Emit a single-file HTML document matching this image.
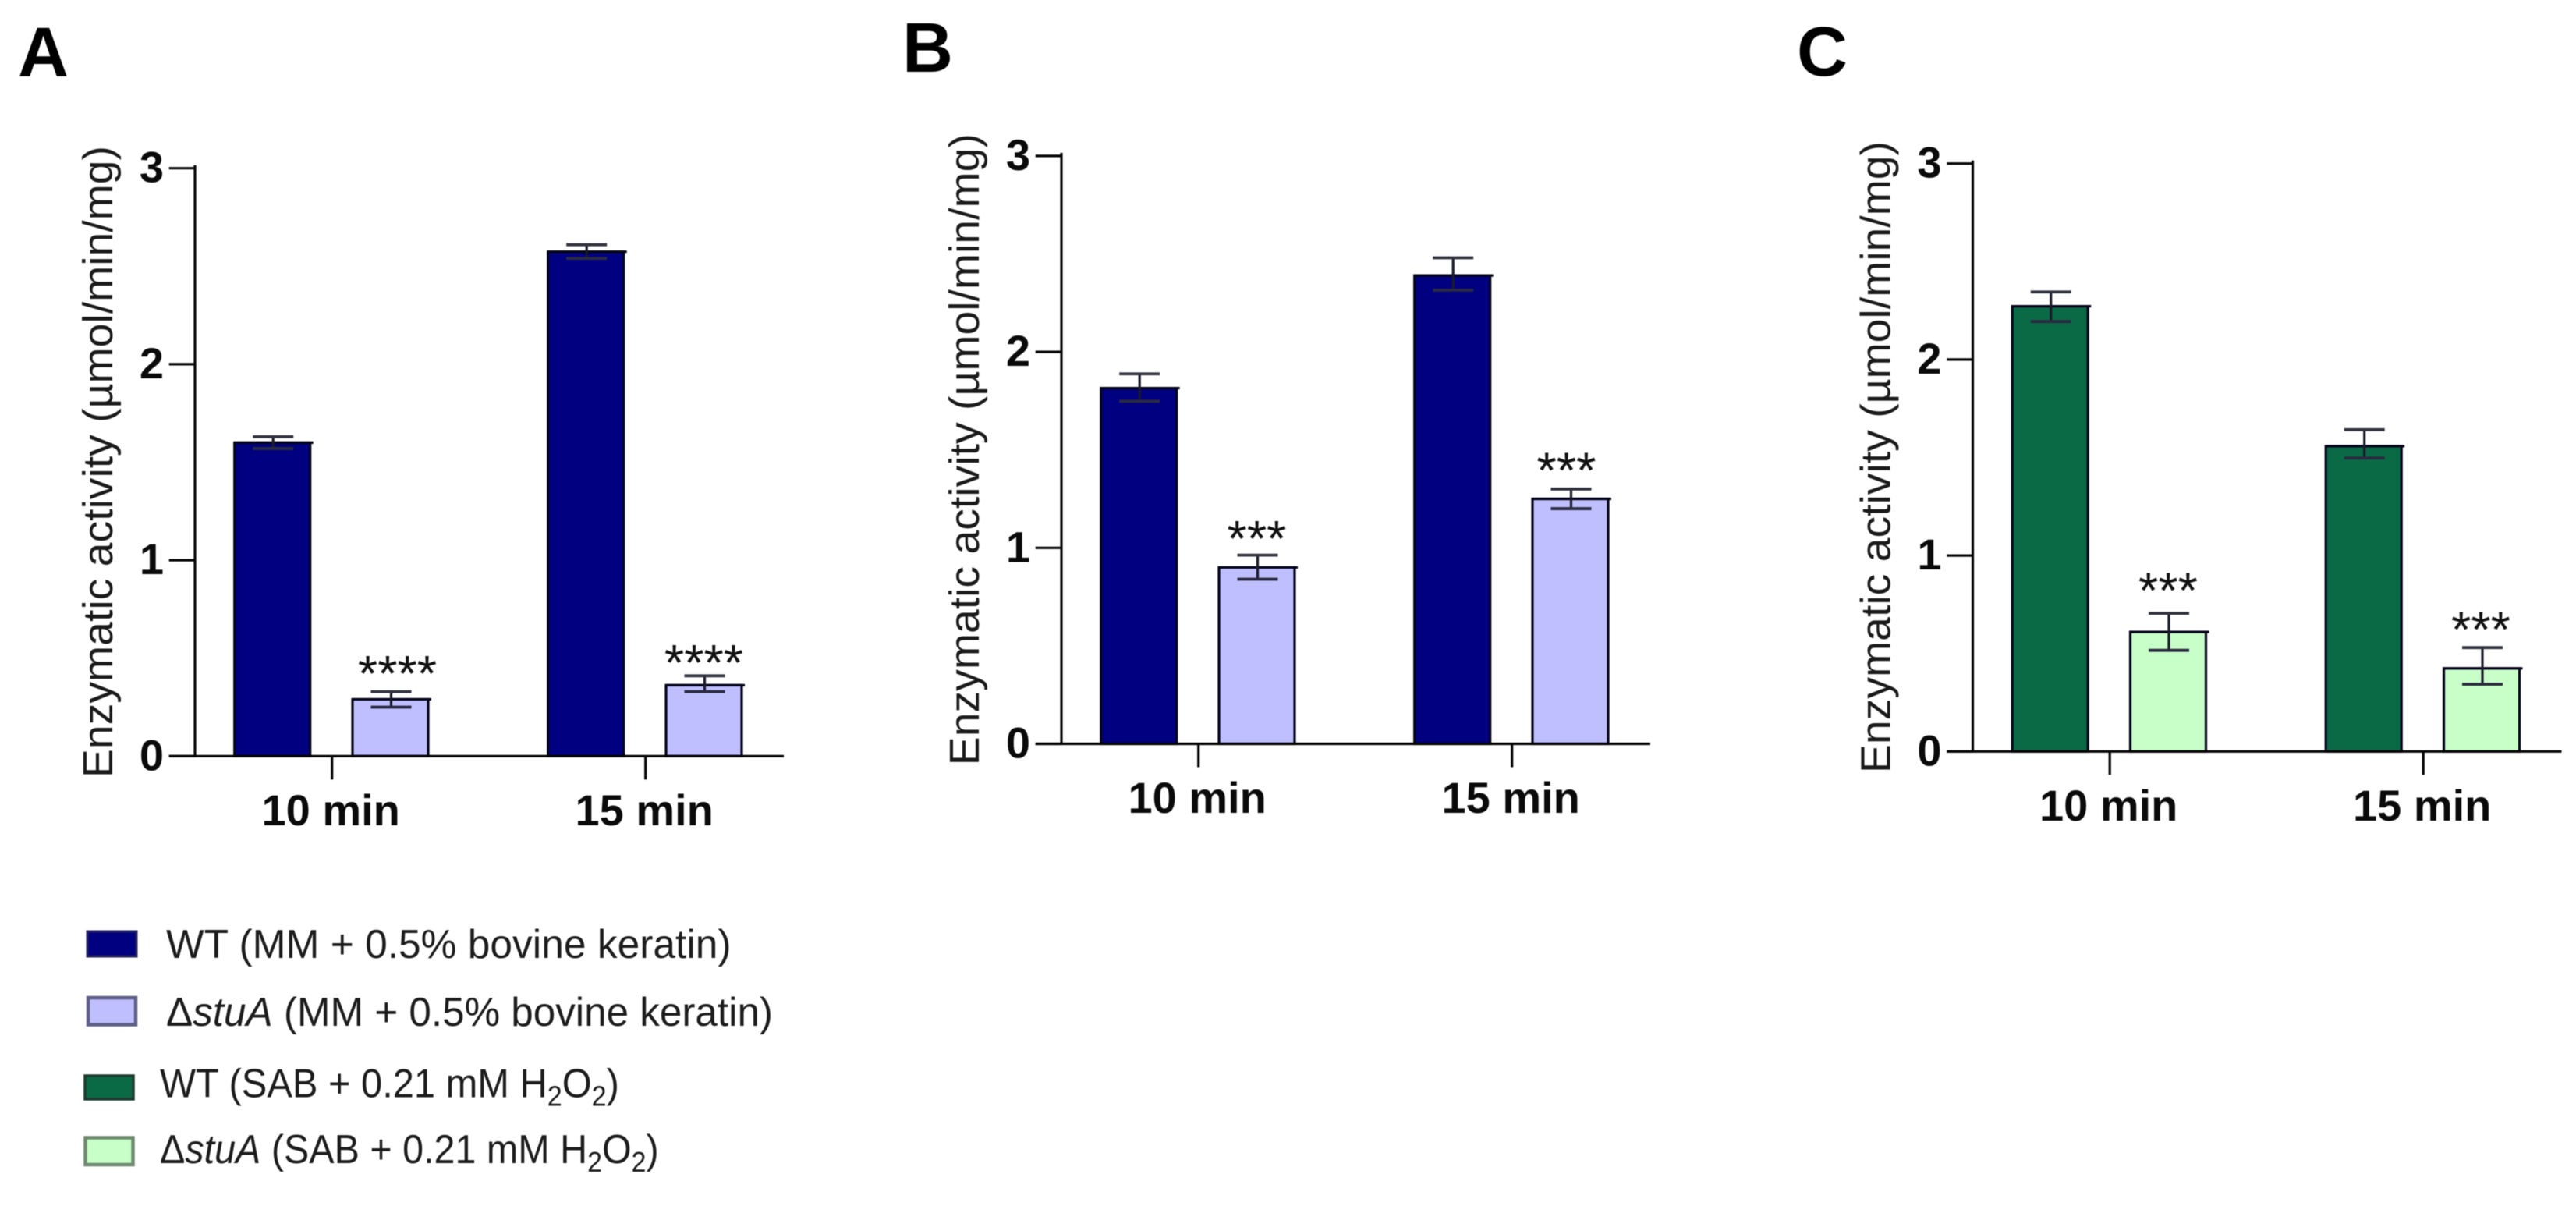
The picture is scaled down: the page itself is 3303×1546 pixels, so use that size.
<!DOCTYPE html>
<html lang="en">
<head>
<meta charset="utf-8">
<title>Enzymatic activity panels</title>
<style>
html,body{margin:0;padding:0;background:#fff;}
svg{display:block;filter:blur(0.6px);}
text{font-family:"Liberation Sans",Arial,sans-serif;fill:#0a0a0a;}
.letter{font-size:90px;font-weight:bold;fill:#000;}
.ytitle{font-size:54px;fill:#1a1a1a;}
.tick-label{font-size:56px;font-weight:bold;fill:#0a0a0a;}
.legend-text{font-size:51.5px;fill:#1c1c1c;}
.star{font-size:65px;fill:#111;}
</style>
</head>
<body>
<svg id="figure" xmlns="http://www.w3.org/2000/svg" width="3303" height="1546" viewBox="0 0 3303 1546">
  <rect x="0" y="0" width="3303" height="1546" fill="#ffffff"/>

  <text class="letter" x="23" y="98">A</text>
  <text class="letter" x="1157" y="92">B</text>
  <text class="letter" x="2304" y="97">C</text>

  <g id="panel-a" transform="translate(0 0)">
    <text class="ytitle" transform="translate(144 997) rotate(-90)" textLength="810" lengthAdjust="spacingAndGlyphs">Enzymatic activity (µmol/min/mg)</text>
  </g>
  <g id="panel-b" transform="translate(1111 -15.8)">
    <text class="ytitle" transform="translate(144 997) rotate(-90)" textLength="810" lengthAdjust="spacingAndGlyphs">Enzymatic activity (µmol/min/mg)</text>
  </g>
  <g id="panel-c" transform="translate(2279.5 -6)">
    <text class="ytitle" transform="translate(144 997) rotate(-90)" textLength="810" lengthAdjust="spacingAndGlyphs">Enzymatic activity (µmol/min/mg)</text>
  </g>

  <g>
    <g>
      <rect x="112" y="1194" width="63" height="32" fill="#000080" stroke="#24245e" stroke-width="3"/>
      <text class="legend-text" x="213" y="1228">WT (MM + 0.5% bovine keratin)</text>
    </g>
    <g>
      <rect x="113" y="1279" width="61" height="34.500" fill="#bfbfff" stroke="#5e5e86" stroke-width="4.500"/>
      <text class="legend-text" transform="translate(213 1315) scale(0.994 1)" x="0" y="0">Δ<tspan font-style="italic">stuA</tspan> (MM + 0.5% bovine keratin)</text>
    </g>
    <g>
      <rect x="109" y="1379" width="62" height="30" fill="#0a6a46" stroke="#1c3c30" stroke-width="3.500"/>
      <text class="legend-text" transform="translate(205 1406.5) scale(0.948 1)" x="0" y="0">WT (SAB + 0.21 mM H<tspan font-size="36" dy="11">2</tspan><tspan dy="-11">O</tspan><tspan font-size="36" dy="11">2</tspan><tspan dy="-11">)</tspan></text>
    </g>
    <g>
      <rect x="109.500" y="1458.500" width="61" height="34.500" fill="#c8ffc8" stroke="#6f8a70" stroke-width="4.500"/>
      <text class="legend-text" transform="translate(205 1491) scale(0.941 1)" x="0" y="0">Δ<tspan font-style="italic">stuA</tspan> (SAB + 0.21 mM H<tspan font-size="36" dy="11">2</tspan><tspan dy="-11">O</tspan><tspan font-size="36" dy="11">2</tspan><tspan dy="-11">)</tspan></text>
    </g>
  </g>
</svg>

<script>
// ---- Data ----
const categories = ['10 min', '15 min'];
const yTickValues = [0, 1, 2, 3];
const yTickLabels = ['0', '1', '2', '3'];

const aWtMean = [1.60, 2.574];
const aWtErrHigh = [1.63, 2.61];
const aWtErrLow = [1.57, 2.54];
const aMutMean = [0.29, 0.362];
const aMutErrHigh = [0.329, 0.41];
const aMutErrLow = [0.25, 0.329];
const aStarText = ['****', '****'];
const aStarLevel = [0.4636, 0.519];

const bWtMean = [1.815, 2.39];
const bWtErrHigh = [1.888, 2.48];
const bWtErrLow = [1.748, 2.315];
const bMutMean = [0.90, 1.25];
const bMutErrHigh = [0.963, 1.30];
const bMutErrLow = [0.84, 1.20];
const bStarText = ['***', '***'];
const bStarLevel = [1.089, 1.438];

const cWtMean = [2.272, 1.558];
const cWtErrHigh = [2.345, 1.642];
const cWtErrLow = [2.194, 1.497];
const cMutMean = [0.61, 0.424];
const cMutErrHigh = [0.705, 0.53];
const cMutErrLow = [0.516, 0.343];
const cStarText = ['***', '***'];
const cStarLevel = [0.864, 0.6635];

// ---- Layout (shared local frame for each panel) ----
const AXIS_X = 250, ZERO_Y = 969.3, UNIT = 251.2, GROUP0 = 425.7, GROUP_STEP = 402;
const BAR_W = 97, CAP_W = 52, LINE = 3.2;
const INK = '#050505';

function yScale(v) { return ZERO_Y - v * UNIT; }
function xGroup(i) { return GROUP0 + GROUP_STEP * i; }
function xBar(i, s) { return xGroup(i) + (s === 0 ? -76.5 : 74.8); }

const SVGNS = 'http://www.w3.org/2000/svg';
function mk(tag, parent) {
  const el = document.createElementNS(SVGNS, tag);
  parent.appendChild(el);
  return el;
}
function line(parent, x1, y1, x2, y2, w, color) {
  const l = mk('line', parent);
  l.setAttribute('x1', x1);
  l.setAttribute('y1', y1);
  l.setAttribute('x2', x2);
  l.setAttribute('y2', y2);
  l.setAttribute('stroke', color || INK);
  l.setAttribute('stroke-width', w || LINE);
  return l;
}

function drawAxes(g, id) {
  const yAxis = line(g, AXIS_X, yScale(3) - 4, AXIS_X, ZERO_Y + 1.4);
  
  
  const xAxis = line(g, 216.7, ZERO_Y, 1005, ZERO_Y);
  
  

  yTickValues.forEach(function (v, i) {
    const t = line(g, 216.7, yScale(v), AXIS_X, yScale(v));
    
    
    const lab = mk('text', g);
    lab.setAttribute('class', 'tick-label');
    lab.setAttribute('x', 210);
    lab.setAttribute('y', yScale(v) + 18);
    lab.setAttribute('text-anchor', 'end');
    lab.textContent = yTickLabels[i];
    
    
  });

  categories.forEach(function (c, i) {
    const t = line(g, xGroup(i), ZERO_Y, xGroup(i), ZERO_Y + 30);
    
    
    const lab = mk('text', g);
    lab.setAttribute('class', 'tick-label');
    lab.setAttribute('x', xGroup(i) - 1.5);
    lab.setAttribute('y', ZERO_Y + 88.7);
    lab.setAttribute('text-anchor', 'middle');
    lab.textContent = c;
    
    
  });
}

function drawSeries(g, id, sIdx, key, fill, mean, hi, lo) {
  mean.forEach(function (v, i) {
    const cx = xBar(i, sIdx);
    const top = yScale(v);
    const r = mk('rect', g);
    r.setAttribute('x', cx - BAR_W / 2);
    r.setAttribute('y', top);
    r.setAttribute('width', BAR_W);
    r.setAttribute('height', ZERO_Y - top);
    r.setAttribute('fill', fill);
    r.setAttribute('stroke', '#05051a');
    r.setAttribute('stroke-width', LINE);
    
    

    const over = line(g, cx - BAR_W / 2, top, cx + BAR_W / 2 + 4, top, LINE, '#05051a');
    
    

    const ex = cx + 1;
    const eg = mk('g', g);
    
    
    line(eg, ex, yScale(hi[i]), ex, yScale(lo[i]), LINE, '#1a1a2a');
    line(eg, ex - CAP_W / 2, yScale(hi[i]), ex + CAP_W / 2, yScale(hi[i]), LINE + 0.6, '#333340');
    line(eg, ex - CAP_W / 2, yScale(lo[i]), ex + CAP_W / 2, yScale(lo[i]), LINE + 0.6, '#2a2a40');
  });
}

function drawStars(g, id, texts, levels, nudge) {
  texts.forEach(function (s, i) {
    const t = mk('text', g);
    t.setAttribute('class', 'star');
    t.setAttribute('x', xBar(i, 1) + nudge[i]);
    t.setAttribute('y', yScale(levels[i]) + 33);
    t.setAttribute('text-anchor', 'middle');
    t.textContent = s;
    
    
  });
}

function drawPanel(id, wtFill, mutFill, wt, wtHi, wtLo, mut, mutHi, mutLo, starText, starLevel, starNudge) {
  const g = document.getElementById('panel-' + id);
  drawSeries(g, id, 0, 'wt', wtFill, wt, wtHi, wtLo);
  drawSeries(g, id, 1, 'stua', mutFill, mut, mutHi, mutLo);
  drawAxes(g, id);
  drawStars(g, id, starText, starLevel, starNudge);
}

drawPanel('a', '#000080', '#bfbfff', aWtMean, aWtErrHigh, aWtErrLow, aMutMean, aMutErrHigh, aMutErrLow, aStarText, aStarLevel, [9, 0]);
drawPanel('b', '#000080', '#bfbfff', bWtMean, bWtErrHigh, bWtErrLow, bMutMean, bMutErrHigh, bMutErrLow, bStarText, bStarLevel, [0, -5]);
drawPanel('c', '#0a6a46', '#c8ffc8', cWtMean, cWtErrHigh, cWtErrLow, cMutMean, cMutErrHigh, cMutErrLow, cStarText, cStarLevel, [0, -1]);
</script>
</body>
</html>
